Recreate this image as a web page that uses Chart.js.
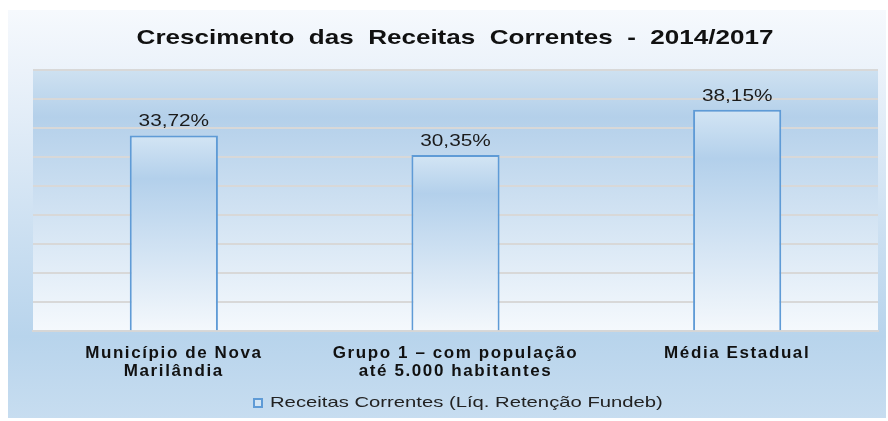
<!DOCTYPE html>
<html>
<head>
<meta charset="utf-8">
<script src="https://cdn.jsdelivr.net/npm/chart.js@4"></script>
<style>
  html, body { margin: 0; padding: 0; background: #ffffff; }
  #wrap { width: 888px; height: 421px; }
</style>
</head>
<body>
<div id="wrap"><canvas id="receitas"></canvas></div>
<script>
var categories = [
    ["Município de Nova", "Marilândia"],
    ["Grupo 1 – com população", "até 5.000 habitantes"],
    ["Média Estadual"]
];
var seriesName = "Receitas Correntes (Líq. Retenção Fundeb)";
var crescimento = [33.72, 30.35, 38.15];
var chartTitle = "Crescimento  das  Receitas  Correntes  -  2014/2017";

var FONT = '"Liberation Sans", Arial, sans-serif';
var BAR_BORDER = '#5f9bd6';

function fmtPct(v) {
    return v.toFixed(2).replace('.', ',') + '%';
}

// texto esticado na horizontal, como no original
function stretchedText(ctx, text, x, y, sx) {
    ctx.save();
    ctx.translate(x, y);
    ctx.scale(sx, 1);
    ctx.fillText(text, 0, 0);
    ctx.restore();
}

// fundo do quadro e da area de plotagem
var backgroundPlugin = {
    id: 'fundo',
    beforeUpdate: function(chart) { chart.ctx.letterSpacing = '1.6px'; },
    beforeDraw: function(chart) {
        var ctx = chart.ctx;
        var a = chart.chartArea;
        ctx.save();
        var g = ctx.createLinearGradient(0, 10, 0, 418);
        g.addColorStop(0, '#f6f9fd');
        g.addColorStop(0.15, '#ebf2fa');
        g.addColorStop(0.8, '#b8d4ec');
        g.addColorStop(1, '#c7ddf0');
        ctx.fillStyle = g;
        ctx.fillRect(8, 10, 878, 408);
        var p = ctx.createLinearGradient(0, a.top, 0, a.bottom);
        p.addColorStop(0, '#cee1f1');
        p.addColorStop(0.18, '#b4d0ea');
        p.addColorStop(1, '#f5f9fd');
        ctx.fillStyle = p;
        ctx.fillRect(a.left, a.top, a.right - a.left, a.bottom - a.top);
        ctx.restore();
        ctx.letterSpacing = '1.6px';
    }
};

// titulo, rotulos de dados e legenda
var textPlugin = {
    id: 'textos',
    afterDatasetsDraw: function(chart) {
        var ctx = chart.ctx;
        var meta = chart.getDatasetMeta(0);
        ctx.save();
        ctx.letterSpacing = '0px';
        ctx.font = '16px ' + FONT;
        ctx.fillStyle = '#1a1a1a';
        ctx.textAlign = 'center';
        ctx.textBaseline = 'alphabetic';
        meta.data.forEach(function(bar, i) {
            stretchedText(ctx, fmtPct(crescimento[i]), bar.x, bar.y - 9, 1.3);
        });

        ctx.font = 'bold 21px ' + FONT;
        ctx.fillStyle = '#111111';
        ctx.textBaseline = 'middle';
        stretchedText(ctx, chartTitle, 455, 38, 1.24);

        // legenda
        ctx.font = '15px ' + FONT;
        ctx.fillStyle = '#222222';
        ctx.textAlign = 'left';
        stretchedText(ctx, seriesName, 270, 403, 1.35);
        ctx.fillStyle = '#d3e5f4';
        ctx.fillRect(254, 399, 8, 8);
        ctx.strokeStyle = BAR_BORDER;
        ctx.lineWidth = 2;
        ctx.strokeRect(254, 399, 8, 8);
        ctx.restore();
    }
};

var ctx = document.getElementById('receitas').getContext('2d');
var myBarChart = new Chart(ctx, {
    type: 'bar',
    data: {
        labels: categories,
        datasets: [{
            label: seriesName,
            data: crescimento,
            borderColor: BAR_BORDER,
            borderWidth: 2,
            backgroundColor: function(context) {
                var chart = context.chart;
                var a = chart.chartArea;
                if (!a) return '#c5dbef';
                var top = chart.scales.y.getPixelForValue(context.raw);
                var g = chart.ctx.createLinearGradient(0, top, 0, a.bottom);
                g.addColorStop(0, '#d3e5f4');
                g.addColorStop(0.22, '#b3d0eb');
                g.addColorStop(1, '#f4f8fc');
                return g;
            },
            barPercentage: 0.313,
            categoryPercentage: 1
        }]
    },
    options: {
        responsive: true,
        maintainAspectRatio: false,
        animation: false,
        layout: { padding: { left: 33, right: 10, top: 70, bottom: 36 } },
        plugins: {
            title: { display: false },
            legend: { display: false },
            tooltip: { enabled: false }
        },
        scales: {
            x: {
                grid: { display: false },
                border: { display: true, color: '#d6d6d6', width: 2 },
                ticks: {
                    color: '#111111',
                    padding: 5,
                    maxRotation: 0,
                    font: { family: FONT, size: 17, weight: 'bold', lineHeight: 1.05 }
                }
            },
            y: {
                min: 0,
                max: 45,
                ticks: { display: false, stepSize: 5 },
                grid: { color: '#d8d8d8', lineWidth: 2, drawTicks: false },
                border: { display: false }
            }
        }
    },
    plugins: [backgroundPlugin, textPlugin]
});
</script>
</body>
</html>
